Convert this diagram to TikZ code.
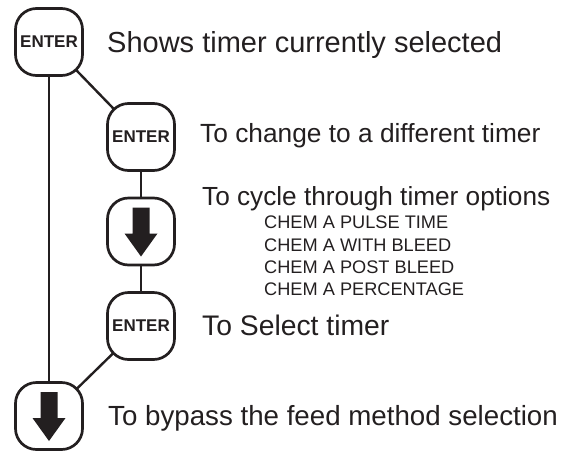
\documentclass[tikz,border=0pt]{standalone}
\usepackage{fontspec}
\setmainfont{Liberation Sans}
\usetikzlibrary{backgrounds}
\definecolor{ink}{RGB}{35,31,32}
\tikzset{
  keybox/.style={draw=ink, line width=2.7pt, rounded corners=21pt, fill=white,
    minimum width=67pt, minimum height=67pt, inner sep=0pt, text=ink,
    font=\bfseries\fontsize{17}{20}\selectfont},
  conn/.style={draw=ink, line width=2.4pt},
  lbl/.style={anchor=base west, inner sep=0pt, text=ink},
  optlbl/.style={lbl, font=\fontsize{18.2}{22}\selectfont},
  downarr/.pic={\fill[ink] (-8.5,-24) -- (8.5,-24) -- (8.5,2) -- (16.5,2) -- (0,25) -- (-16.5,2) -- (-8.5,2) -- cycle;}
}
\begin{document}
\begin{tikzpicture}[x=1pt,y=-1pt]
\useasboundingbox (0,0) rectangle (577,453);
\node[keybox] (b1) at (49,42) {ENTER};
\node[keybox] (b2) at (141,137) {ENTER};
\node[keybox] (b3) at (141,231.5) {};
\node[keybox] (b4) at (141,326) {ENTER};
\node[keybox] (b5) at (49,416) {};
\pic at (b3.center) {downarr};
\pic at (b5.center) {downarr};
\begin{scope}[on background layer]
  \draw[conn] (b1.center) -- (b2.center);
  \draw[conn] (b1.center) -- (b5.center);
  \draw[conn] (b2.center) -- (b3.center);
  \draw[conn] (b3.center) -- (b4.center);
  \draw[conn] (b4.center) -- (b5.center);
\end{scope}
\node[lbl, font=\fontsize{29}{34}\selectfont] (t1) at (107,52) {Shows timer currently selected};
\node[lbl, font=\fontsize{26.3}{31}\selectfont] (t2) at (200,142) {To change to a different timer};
\node[lbl, font=\fontsize{26.2}{31}\selectfont] (t3) at (202,205) {To cycle through timer options};
\node[optlbl] (o1) at (264,228) {CHEM A PULSE TIME};
\node[optlbl] (o2) at (264,251) {CHEM A WITH BLEED};
\node[optlbl] (o3) at (264,273) {CHEM A POST BLEED};
\node[optlbl] (o4) at (264,295) {CHEM A PERCENTAGE};
\node[lbl, font=\fontsize{28.3}{33}\selectfont] (t4) at (202,335) {To Select timer};
\node[lbl, font=\fontsize{27.7}{33}\selectfont] (t5) at (108,425) {To bypass the feed method selection};
\end{tikzpicture}
\end{document}
